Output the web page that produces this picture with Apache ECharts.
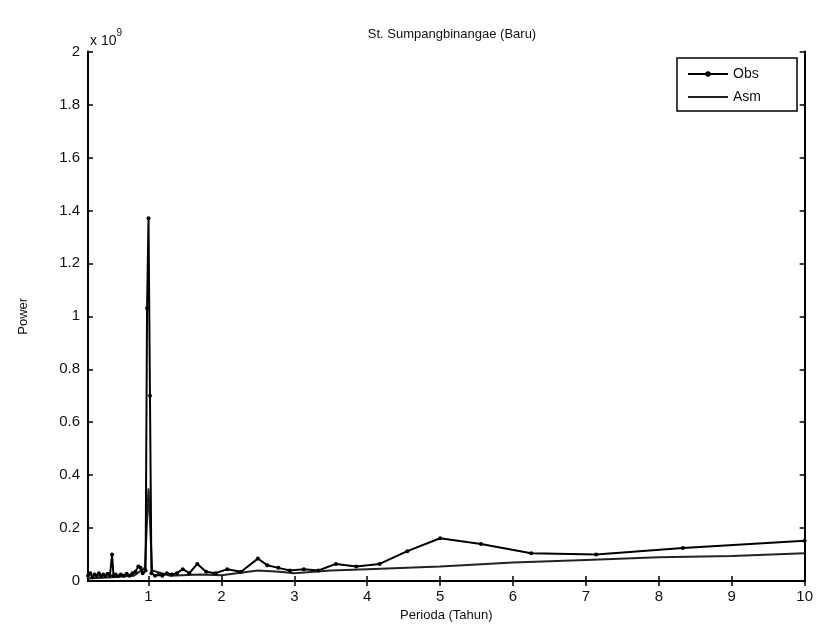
<!DOCTYPE html>
<html>
<head>
<meta charset="utf-8">
<script src="https://cdn.jsdelivr.net/npm/echarts@6/dist/echarts.min.js"></script>
<style>
  html, body { margin: 0; padding: 0; background: #fff; }
  #chart { width: 816px; height: 627px; }
</style>
</head>
<body>
<div id="chart"></div>
<script>
const FONT = '"Liberation Sans", Arial, sans-serif';

// power in units of 1e9, period in years
const obsPeriod = [0.17, 0.2, 0.23, 0.26, 0.29, 0.32, 0.35, 0.38, 0.41, 0.44, 0.47, 0.5, 0.52, 0.55,
  0.58, 0.62, 0.66, 0.7, 0.74, 0.78, 0.82, 0.86, 0.89, 0.92, 0.96, 0.98, 1.0, 1.02, 1.04, 1.09,
  1.14, 1.19, 1.25, 1.32, 1.39, 1.47, 1.56, 1.67, 1.79, 1.92, 2.08, 2.27, 2.5, 2.63, 2.78, 2.94,
  3.13, 3.33, 3.57, 3.85, 4.17, 4.55, 5.0, 5.56, 6.25, 7.14, 8.33, 10];
const obsPower = [0.02, 0.03, 0.015, 0.025, 0.02, 0.03, 0.018, 0.025, 0.02, 0.028, 0.02, 0.1, 0.02, 0.025,
  0.018, 0.025, 0.02, 0.028, 0.02, 0.03, 0.035, 0.055, 0.05, 0.03, 0.04, 1.03, 1.37, 0.7, 0.03, 0.02,
  0.025, 0.02, 0.03, 0.025, 0.03, 0.045, 0.03, 0.065, 0.035, 0.03, 0.045, 0.035, 0.085, 0.06, 0.05, 0.04,
  0.045, 0.04, 0.065, 0.055, 0.065, 0.113, 0.162, 0.14, 0.105, 0.1, 0.125, 0.152];

const asmPeriod = [0.17, 0.3, 0.5, 0.8, 0.95, 1.0, 1.05, 1.3, 1.7, 2.0, 2.5, 2.8, 3.0, 3.5, 4, 5, 6, 7, 8, 9, 10];
const asmPower = [0.01, 0.012, 0.015, 0.02, 0.05, 0.35, 0.04, 0.02, 0.025, 0.022, 0.04, 0.035, 0.03, 0.04,
  0.045, 0.055, 0.07, 0.08, 0.09, 0.095, 0.105];

const xTicks = [1, 2, 3, 4, 5, 6, 7, 8, 9, 10];

const chart = echarts.init(document.getElementById('chart'), null, { renderer: 'canvas' });

const axisLine = { lineStyle: { color: '#000', width: 2 } };
const tickIn = { inside: true, length: 5, lineStyle: { color: '#000', width: 1.5 } };
const label = { color: '#111', fontSize: 15, fontFamily: FONT };

chart.setOption({
  backgroundColor: '#fff',
  animation: false,
  title: {
    text: 'St. Sumpangbinangae (Baru)',
    left: 447, top: 23, textAlign: 'center',
    textStyle: { fontSize: 13, fontWeight: 'normal', color: '#111', fontFamily: FONT }
  },
  grid: { left: 88, right: 11, top: 51.5, bottom: 41.5 },
  legend: {
    right: 19, top: 58,
    orient: 'vertical',
    padding: [8, 36, 6, 10],
    itemGap: 7,
    itemWidth: 40, itemHeight: 7,
    borderColor: '#000', borderWidth: 1.5, borderRadius: 0,
    backgroundColor: '#fff',
    textStyle: { fontSize: 14, color: '#111', fontFamily: FONT, lineHeight: 16 },
    data: [
      { name: 'Obs' },
      { name: 'Asm', itemStyle: { opacity: 0 } }
    ]
  },
  xAxis: [
    {
      type: 'value', min: 0.17, max: 10,
      name: 'Perioda (Tahun)', nameLocation: 'middle', nameGap: 20,
      nameTextStyle: { fontSize: 13, color: '#111', fontFamily: FONT },
      axisLine,
      axisTick: Object.assign({ customValues: xTicks }, tickIn),
      axisLabel: Object.assign({ customValues: xTicks, margin: 8 }, label),
      splitLine: { show: false }
    },
    {
      type: 'value', min: 0.17, max: 10, position: 'top',
      axisLine,
      axisTick: Object.assign({ customValues: xTicks }, tickIn),
      axisLabel: { show: false },
      splitLine: { show: false }
    }
  ],
  yAxis: [
    {
      type: 'value', min: 0, max: 2, interval: 0.2,
      name: 'Power', nameLocation: 'middle', nameGap: 58,
      nameTextStyle: { fontSize: 13, color: '#111', fontFamily: FONT },
      axisLine: Object.assign({ show: true }, axisLine),
      axisTick: Object.assign({ show: true }, tickIn),
      axisLabel: Object.assign({ margin: 8 }, label),
      splitLine: { show: false }
    },
    {
      type: 'value', min: 0, max: 2, interval: 0.2, position: 'right',
      axisLine: Object.assign({ show: true }, axisLine),
      axisTick: Object.assign({ show: true }, tickIn),
      axisLabel: { show: false },
      splitLine: { show: false }
    }
  ],
  graphic: [{
    type: 'text', left: 90, top: 28,
    style: {
      text: '{b|x 10}{s|9}',
      rich: {
        b: { fontSize: 14, fontFamily: FONT, fill: '#111', padding: [6, 0, 0, 0] },
        s: { fontSize: 10, fontFamily: FONT, fill: '#111', verticalAlign: 'top' }
      }
    }
  }],
  series: [
    {
      name: 'Obs', type: 'line',
      data: obsPeriod.map((p, i) => [p, obsPower[i]]),
      symbol: 'circle', symbolSize: 4, showSymbol: true,
      itemStyle: { color: '#000' },
      lineStyle: { color: '#000', width: 2 },
      z: 3
    },
    {
      name: 'Asm', type: 'line',
      data: asmPeriod.map((p, i) => [p, asmPower[i]]),
      symbol: 'none',
      itemStyle: { color: '#222' },
      lineStyle: { color: '#222', width: 2 },
      z: 2
    }
  ]
});
</script>
</body>
</html>
